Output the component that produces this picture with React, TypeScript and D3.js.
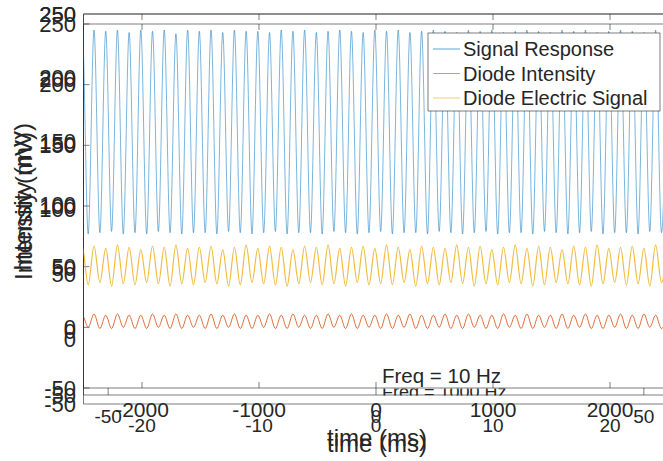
import React from "react";
import * as d3 from "d3";

// ---- data ----
const Y_TICKS = [-50, 0, 50, 100, 150, 200, 250];
const X_TICKS_MS = [-2000, -1000, 0, 1000, 2000];
const X_TICKS_B = [-20, -10, 0, 10, 20];
const X_TICKS_C = [-50, 50];
const SERIES_NAMES = ["Signal Response", "Diode Intensity", "Diode Electric Signal"];
const SERIES_COLORS = ["#0072BD", "#D95319", "#EDB120"];
const PERIOD_MS = 100; // 10 Hz
const FIRST_TROUGH_MS = -2560;

const BLUE_PEAKS = [244, 245, 244, 245, 243, 245, 244, 245, 242, 245, 244, 245, 243, 245, 244, 244, 243, 245, 244, 245, 243, 244, 245, 244, 243, 245, 244, 245, 243, 244, 245, 244, 243, 245, 244, 245, 243, 244, 245, 244, 243, 245, 244, 245, 243, 244, 245, 244, 243, 245, 244];
const BLUE_TROUGHS = [78, 77, 78, 79, 77, 78, 77, 79, 78, 77, 78, 78, 77, 79, 78, 77, 78, 79, 77, 78, 78, 77, 79, 78, 77, 78, 79, 77, 78, 78, 77, 79, 78, 77, 78, 79, 77, 78, 78, 77, 79, 78, 77, 78, 79, 77, 78, 78, 77, 79, 78];
const RED_PEAKS = [10, 11, 10, 11, 10, 10, 11, 10, 11, 10, 10, 11, 10, 11, 10, 10, 11, 10, 11, 10, 10, 11, 10, 11, 10, 10, 11, 10, 11, 10, 10, 11, 10, 11, 10, 10, 11, 10, 11, 10, 10, 11, 10, 11, 10, 10, 11, 10, 11, 10, 10];
const RED_TROUGHS = [-1, 0, -1, -1, 0, -1, -1, 0, -1, -1, 0, -1, -1, 0, -1, -1, 0, -1, -1, 0, -1, -1, 0, -1, -1, 0, -1, -1, 0, -1, -1, 0, -1, -1, 0, -1, -1, 0, -1, -1, 0, -1, -1, 0, -1, -1, 0, -1, -1, 0, -1];
const YEL_PEAKS = [66, 67, 65, 68, 66, 64, 67, 66, 68, 65, 66, 67, 64, 66, 68, 65, 67, 66, 64, 67, 66, 68, 65, 66, 67, 65, 68, 66, 64, 67, 66, 65, 68, 66, 67, 64, 66, 68, 65, 67, 66, 64, 67, 66, 68, 65, 66, 67, 65, 68, 66];
const YEL_TROUGHS = [36, 35, 37, 34, 36, 35, 37, 36, 34, 36, 35, 37, 36, 34, 35, 37, 36, 35, 34, 36, 37, 35, 36, 34, 37, 35, 36, 35, 37, 34, 36, 35, 37, 36, 34, 36, 35, 37, 36, 34, 35, 37, 36, 35, 34, 36, 37, 35, 36, 34, 37];

const FONT = "'Liberation Sans', Arial, Helvetica, sans-serif";
const TXT = "#262626";
const AX = "#262626";

type Pt = { t: number; v: number };
function build(peaks: number[], troughs: number[]): Pt[] {
  const pts: Pt[] = [];
  troughs.forEach((tv, i) => {
    const t0 = FIRST_TROUGH_MS + i * PERIOD_MS;
    pts.push({ t: t0, v: tv });
    if (i < peaks.length) pts.push({ t: t0 + PERIOD_MS / 2, v: peaks[i] });
  });
  return pts;
}

export default function App() {
  const W = 663, H = 461;
  const L = 83.5, R = 668.5;
  const xA = d3.scaleLinear().domain([-2500, 2500]).range([L, R]);
  const xB = d3.scaleLinear().domain([-25, 25]).range([L, R]);
  const xC = d3.scaleLinear().domain([-54.6, 54.6]).range([L, R]);
  const yA = d3.scaleLinear().domain([-50, 250]).range([388, 24]);
  const yB = d3.scaleLinear().domain([-50, 250]).range([404, 14]);
  const yC = d3.scaleLinear().domain([-50, 250]).range([395, 14]);

  const series = [
    build(BLUE_PEAKS, BLUE_TROUGHS),
    build(RED_PEAKS, RED_TROUGHS),
    build(YEL_PEAKS, YEL_TROUGHS),
  ];
  const line = d3
    .line<Pt>()
    .x((d) => xA(d.t))
    .y((d) => yA(d.v))
    .curve(d3.curveMonotoneX);
  const widths = [0.7, 1, 1.2];

  const frames = [
    { y: yA, top: 24, bottom: 388, ticks: true },
    { y: yC, top: 14, bottom: 395, ticks: false },
    { y: yB, top: 14, bottom: 404, ticks: false },
  ];

  return (
    <svg width={W} height={H} style={{ position: "absolute", left: 0, top: 0, background: "#fff" }} fontFamily={FONT}>
      <defs>
        <clipPath id="plotA">
          <rect x={L} y={24} width={R - L} height={388 - 24} />
        </clipPath>
        <clipPath id="band">
          <rect x={L} y={388.5} width={R - L} height={7} />
        </clipPath>
      </defs>
      <rect x={0} y={0} width={W} height={H} fill="#fff" />

      {/* axis frames */}
      {frames.map((f, i) => (
        <g key={i} stroke={AX} strokeWidth={0.6} fill="none">
          <line x1={L} x2={R} y1={f.top} y2={f.top} />
          <line x1={L} x2={R} y1={f.bottom} y2={f.bottom} />
          <line x1={L} x2={L} y1={f.top} y2={f.bottom} />
          {f.ticks &&
            Y_TICKS.map((v) => (
              <line key={v} x1={L} x2={L + 6} y1={f.y(v)} y2={f.y(v)} />
            ))}
        </g>
      ))}

      {/* x ticks */}
      <g stroke={AX} strokeWidth={0.6}>
        {X_TICKS_MS.map((v) => (
          <g key={"a" + v}>
            <line x1={xA(v)} x2={xA(v)} y1={388} y2={382} />
            <line x1={xA(v)} x2={xA(v)} y1={24} y2={30} />
          </g>
        ))}
        {X_TICKS_B.map((v) => (
          <line key={"b" + v} x1={xB(v)} x2={xB(v)} y1={14} y2={20} />
        ))}
        {[...X_TICKS_C, 0].map((v) => (
          <line key={"c" + v} x1={xC(v)} x2={xC(v)} y1={395} y2={388} />
        ))}
      </g>

      {/* y tick labels */}
      <g fill={TXT} fontSize={22} textAnchor="end">
        {frames.map((f, i) =>
          Y_TICKS.map((v) => (
            <text key={i + "-" + v} x={76} y={f.y(v)} dy="0.35em">
              {v}
            </text>
          ))
        )}
      </g>

      {/* x tick labels */}
      <g fill={TXT} textAnchor="middle">
        {X_TICKS_MS.map((v) => (
          <text key={"la" + v} x={xA(v)} y={417} fontSize={21}>
            {v}
          </text>
        ))}
        {X_TICKS_C.map((v) => (
          <text key={"lc" + v} x={xC(v)} y={423} fontSize={19}>
            {v}
          </text>
        ))}
        <text x={xC(0)} y={423} fontSize={19}>0</text>
        {X_TICKS_B.map((v) => (
          <text key={"lb" + v} x={xB(v)} y={432} fontSize={19}>
            {v}
          </text>
        ))}
      </g>

      {/* axis titles */}
      <g fill={TXT} fontSize={24} textAnchor="middle">
        <text x={377} y={446}>time (ms)</text>
        <text x={377} y={452}>time (ms)</text>
        <text transform="translate(31,197) rotate(-90)">Intensity (mV)</text>
        <text transform="translate(32,206) rotate(-90)">Intensity (mV)</text>
      </g>

      {/* hidden annotation peeking through */}
      <g clipPath="url(#band)">
        <text x={382} y={398} fontSize={18} fill={TXT}>Freq = 1000 Hz</text>
      </g>

      {/* data */}
      <g clipPath="url(#plotA)" fill="none">
        {series.map((s, i) => (
          <path key={i} d={line(s) || ""} stroke={SERIES_COLORS[i]} strokeWidth={widths[i]} strokeOpacity={i === 0 ? 0.75 : 0.85} />
        ))}
      </g>

      {/* legend */}
      <g>
        <rect x={428} y={33} width={232} height={78} fill="#fff" stroke={AX} strokeWidth={0.6} />
        {SERIES_NAMES.map((n, i) => {
          const cy = 49 + i * 24.5;
          return (
            <g key={n}>
              <line x1={433} x2={460} y1={cy} y2={cy} stroke={SERIES_COLORS[i]} strokeWidth={0.8} strokeOpacity={0.8} />
              <text x={463} y={cy} dy="0.35em" fontSize={20} fill={TXT}>
                {n}
              </text>
            </g>
          );
        })}
      </g>

      <text x={382} y={383} fontSize={20.5} fill={TXT}>Freq = 10 Hz</text>
    </svg>
  );
}
